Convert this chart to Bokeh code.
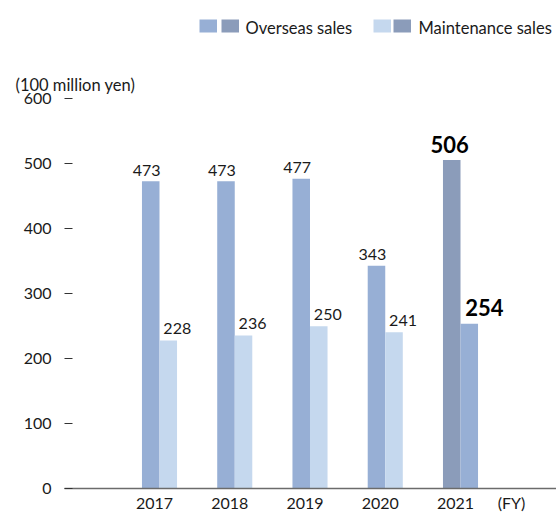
from bokeh.plotting import figure
from bokeh.models import ColumnDataSource, Range1d, FixedTicker
from bokeh.embed import file_html
from bokeh.resources import INLINE
from bokeh.core.properties import value

# ---------------- data ----------------
years = ["2017", "2018", "2019", "2020", "2021"]
overseas = [473, 473, 477, 343, 506]
maintenance = [228, 236, 250, 241, 254]
y_ticks = [0, 100, 200, 300, 400, 500, 600]
series_names = ["Overseas sales", "Maintenance sales"]
unit_label = "(100 million yen)"
fy_label = "(FY)"
highlight_year = "2021"

# ---------------- style / layout ----------------
FONT = "Lato"
C_OV = "#97AFD5"
C_MA = "#C5D8EE"
C_HI = "#8B9CBA"
TXT = "#1a1a1a"

W, H = 556, 512
PX_GROUP0 = 159.0      # centre of first year group (px)
PX_PER_X = 75.25       # pixels per category step
PY_ZERO = 488.3        # baseline (px)
PX_PER_Y = 0.65        # pixels per unit
PX_AXIS_LEFT = 64.0
TEXT_SHIFT = 5         # compensation for baseline rendering


def px2x(px):
    return (px - PX_GROUP0) / PX_PER_X


def py2y(py):
    return (PY_ZERO - py) / PX_PER_Y


BAR_W = 0.233
half = BAR_W / 2

idx = list(range(len(years)))
ov_x = [i - half for i in idx]
ma_x = [i + half for i in idx]
ov_col = [C_HI if y == highlight_year else C_OV for y in years]
ma_col = [C_OV if y == highlight_year else C_MA for y in years]

src = ColumnDataSource(dict(ov_x=ov_x, ma_x=ma_x, ov=overseas, ma=maintenance,
                            ov_col=ov_col, ma_col=ma_col,
                            ov_t=[str(v) for v in overseas],
                            ma_t=[str(v) for v in maintenance]))

norm = [k for k, y in enumerate(years) if y != highlight_year]
hi = [k for k, y in enumerate(years) if y == highlight_year]


def subset(keys):
    return ColumnDataSource({c: [src.data[c][k] for k in keys] for c in src.data})


src_n = subset(norm)
src_h = subset(hi)

X_LEFT = px2x(PX_AXIS_LEFT)
p = figure(width=W, height=H,
           x_range=Range1d(px2x(0), px2x(W)), y_range=Range1d(py2y(H), py2y(0)),
           output_backend="svg", toolbar_location=None, min_border=0)
p.outline_line_color = None
p.xgrid.visible = False
p.ygrid.visible = False

p.vbar(x="ov_x", top="ov", width=BAR_W, bottom=0, source=src,
       fill_color="ov_col", line_color=None)
p.vbar(x="ma_x", top="ma", width=BAR_W, bottom=0, source=src,
       fill_color="ma_col", line_color=None)

# value labels
p.text(x="ov_x", y="ov", text="ov_t", source=src_n, x_offset=-4, y_offset=-11,
       text_align="center", text_baseline="alphabetic",
       text_font=value(FONT), text_font_size="16px", text_color=TXT)
p.text(x="ma_x", y="ma", text="ma_t", source=src_n, x_offset=9, y_offset=-12,
       text_align="center", text_baseline="alphabetic",
       text_font=value(FONT), text_font_size="16px", text_color=TXT)
p.text(x="ov_x", y="ov", text="ov_t", source=src_h, x_offset=-2, y_offset=-15,
       text_align="center", text_baseline="alphabetic",
       text_font=value(FONT), text_font_size="22px", text_font_style="bold",
       text_color="#000000")
p.text(x="ma_x", y="ma", text="ma_t", source=src_h, x_offset=15, y_offset=-16,
       text_align="center", text_baseline="alphabetic",
       text_font=value(FONT), text_font_size="22px", text_font_style="bold",
       text_color="#000000")

# y axis (at the left edge of the plotting area)
yax = p.yaxis[0]
yax.fixed_location = X_LEFT
yax.ticker = FixedTicker(ticks=y_ticks)
yax.axis_line_color = None
yax.major_tick_in = 8
yax.major_tick_out = 0
yax.major_tick_line_color = "#333333"
yax.major_tick_line_width = 1
yax.minor_tick_line_color = None
yax.major_label_standoff = 13
yax.major_label_text_font = FONT
yax.major_label_text_font_size = "16px"
yax.major_label_text_color = TXT

# x axis: baseline at 0, year labels slightly left of group centre, plus "(FY)"
LABEL_SHIFT = -0.066
FY_POS = 4.678
x_ticks = [i + LABEL_SHIFT for i in idx] + [FY_POS]
x_labels = years + [fy_label]
xax = p.xaxis[0]
xax.fixed_location = 0
xax.bounds = (X_LEFT, px2x(W))
xax.ticker = FixedTicker(ticks=x_ticks)
xax.major_label_overrides = {t: s for t, s in zip(x_ticks, x_labels)}
xax.axis_line_color = "#6b6b6b"
xax.axis_line_width = 1.5
xax.major_tick_in = 0
xax.major_tick_out = 0
xax.minor_tick_line_color = None
xax.major_label_standoff = 4
xax.major_label_text_font = FONT
xax.major_label_text_font_size = "16px"
xax.major_label_text_color = TXT

# legend: two swatches per series (earlier years / 2021), then the name
sw_left_px = [199, 221, 373, 393]
SW_W_PX = 17.5
sw_cols = [C_OV, C_HI, C_MA, C_HI]
p.quad(left=[px2x(v) for v in sw_left_px],
       right=[px2x(v + SW_W_PX) for v in sw_left_px],
       top=py2y(19), bottom=py2y(32), fill_color=sw_cols, line_color=None)
p.text(x=[px2x(245), px2x(418)], y=[py2y(32 - TEXT_SHIFT)] * 2, text=series_names,
       text_font=value(FONT), text_font_size="16.5px", text_color=TXT,
       text_align="left", text_baseline="alphabetic")

# unit label
p.text(x=[px2x(15)], y=[py2y(89 - TEXT_SHIFT)], text=[unit_label],
       text_font=value(FONT), text_font_size="16.5px", text_color=TXT,
       text_align="left", text_baseline="alphabetic")

open("out.html", "w").write(file_html(p, INLINE))
